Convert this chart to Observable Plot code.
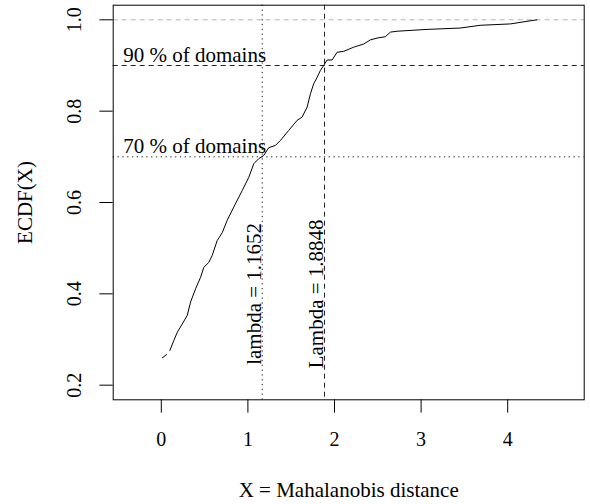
<!DOCTYPE html>
<html>
<head>
<meta charset="utf-8">
<script src="https://cdn.jsdelivr.net/npm/d3@7"></script>
<script src="https://cdn.jsdelivr.net/npm/@observablehq/plot@0.6"></script>
<style>
  html, body { margin: 0; padding: 0; background: white; }
  svg, svg text { font-family: "Liberation Serif", "Times New Roman", serif !important; }
</style>
</head>
<body>
<div id="chart"></div>
<script>
const xTicks = [0, 1, 2, 3, 4];
const yTicks = [0.2, 0.4, 0.6, 0.8, 1.0];

// ECDF (NaN = visible gap in the curve)
const ecdfX = [0.012, 0.061, 0.08, 0.099, 0.145, 0.185, 0.242, 0.300, 0.338, 0.396, 0.453, 0.491, 0.549, 0.588, 0.646, 0.704, 0.761, 0.837, 0.934, 1.010, 1.068, 1.126, 1.183, 1.241, 1.318, 1.376, 1.472, 1.569, 1.626, 1.684, 1.722, 1.760, 1.799, 1.837, 1.875, 1.915, 1.972, 2.030, 2.106, 2.221, 2.337, 2.414, 2.491, 2.587, 2.645, 2.722, 3.068, 3.452, 3.683, 4.029, 4.337];
const ecdfY = [0.260, 0.267, NaN, 0.276, 0.298, 0.316, 0.334, 0.353, 0.382, 0.411, 0.436, 0.458, 0.469, 0.484, 0.517, 0.534, 0.561, 0.590, 0.626, 0.655, 0.685, 0.696, 0.703, 0.720, 0.725, 0.736, 0.758, 0.780, 0.787, 0.809, 0.838, 0.860, 0.874, 0.889, 0.900, 0.912, 0.912, 0.929, 0.931, 0.940, 0.947, 0.956, 0.960, 0.963, 0.973, 0.975, 0.979, 0.982, 0.988, 0.991, 1.000];

const lambdaValues = [1.1652, 1.8848];
const lambdaLabels = ["lambda = 1.1652", "Lambda = 1.8848"];
const pctLevels = [0.7, 0.9];
const pctLabels = ["70 % of domains", "90 % of domains"];

const ecdf = ecdfX.map((x, i) => ({x, y: ecdfY[i]}));
const FONT = "Liberation Serif";

const chart = Plot.plot({
  width: 590,
  height: 504,
  marginLeft: 112.7,
  marginRight: 6.3,
  marginTop: 4.7,
  marginBottom: 104.7,
  x: {domain: [-0.5554, 4.8834]},
  y: {domain: [0.168, 1.032]},
  style: {fontFamily: FONT, fontSize: "21px", background: "white", color: "black"},
  marks: [
    Plot.ruleY([1], {stroke: "#b3b3b3", strokeDasharray: "5,4"}),
    Plot.ruleY([0.9], {stroke: "#222", strokeDasharray: "5,4"}),
    Plot.ruleY([0.7], {stroke: "#222", strokeDasharray: "1.3,3.5"}),
    Plot.ruleX([lambdaValues[0]], {stroke: "#222", strokeDasharray: "1.3,3.5"}),
    Plot.ruleX([lambdaValues[1]], {stroke: "#222", strokeDasharray: "5,4"}),
    Plot.line(ecdf, {x: "x", y: "y", stroke: "black", strokeWidth: 1}),
    Plot.frame({stroke: "black"}),
    Plot.axisX({ticks: xTicks, tickSize: 13.3, tickFormat: () => "", label: null}),
    Plot.axisY({ticks: yTicks, tickSize: 13.3, tickFormat: () => "", label: null}),
    Plot.text(xTicks, {x: d => d, text: d => String(d), frameAnchor: "bottom", lineAnchor: "bottom", dy: 46.2, fontSize: 20, fontFamily: FONT, fill: "black"}),
    Plot.text(yTicks, {y: d => d, text: d => d.toFixed(1), frameAnchor: "left", rotate: -90, textAnchor: "middle", lineAnchor: "bottom", dx: -32.7, fontSize: 20, fontFamily: FONT, fill: "black"}),
    Plot.text(["ECDF(X)"], {frameAnchor: "left", rotate: -90, textAnchor: "middle", lineAnchor: "bottom", dx: -81.7, fontSize: 21, fontFamily: FONT, fill: "black"}),
    Plot.text(["X = Mahalanobis distance"], {frameAnchor: "bottom", lineAnchor: "bottom", dy: 96.7, fontSize: 21, fontFamily: FONT, fill: "black"}),
    Plot.text(pctLevels, {y: d => d, text: (d, i) => pctLabels[i], frameAnchor: "left", textAnchor: "start", lineAnchor: "bottom", dx: 10, dy: -3.5, fontSize: 21, fontFamily: FONT, fill: "black"}),
    Plot.text(lambdaValues, {x: d => d, y: 0.4, text: (d, i) => lambdaLabels[i], rotate: -90, textAnchor: "middle", lineAnchor: "bottom", dx: -1.5, fontSize: 21, fontFamily: FONT, fill: "black"})
  ]
});
document.getElementById("chart").appendChild(chart);
</script>
</body>
</html>
